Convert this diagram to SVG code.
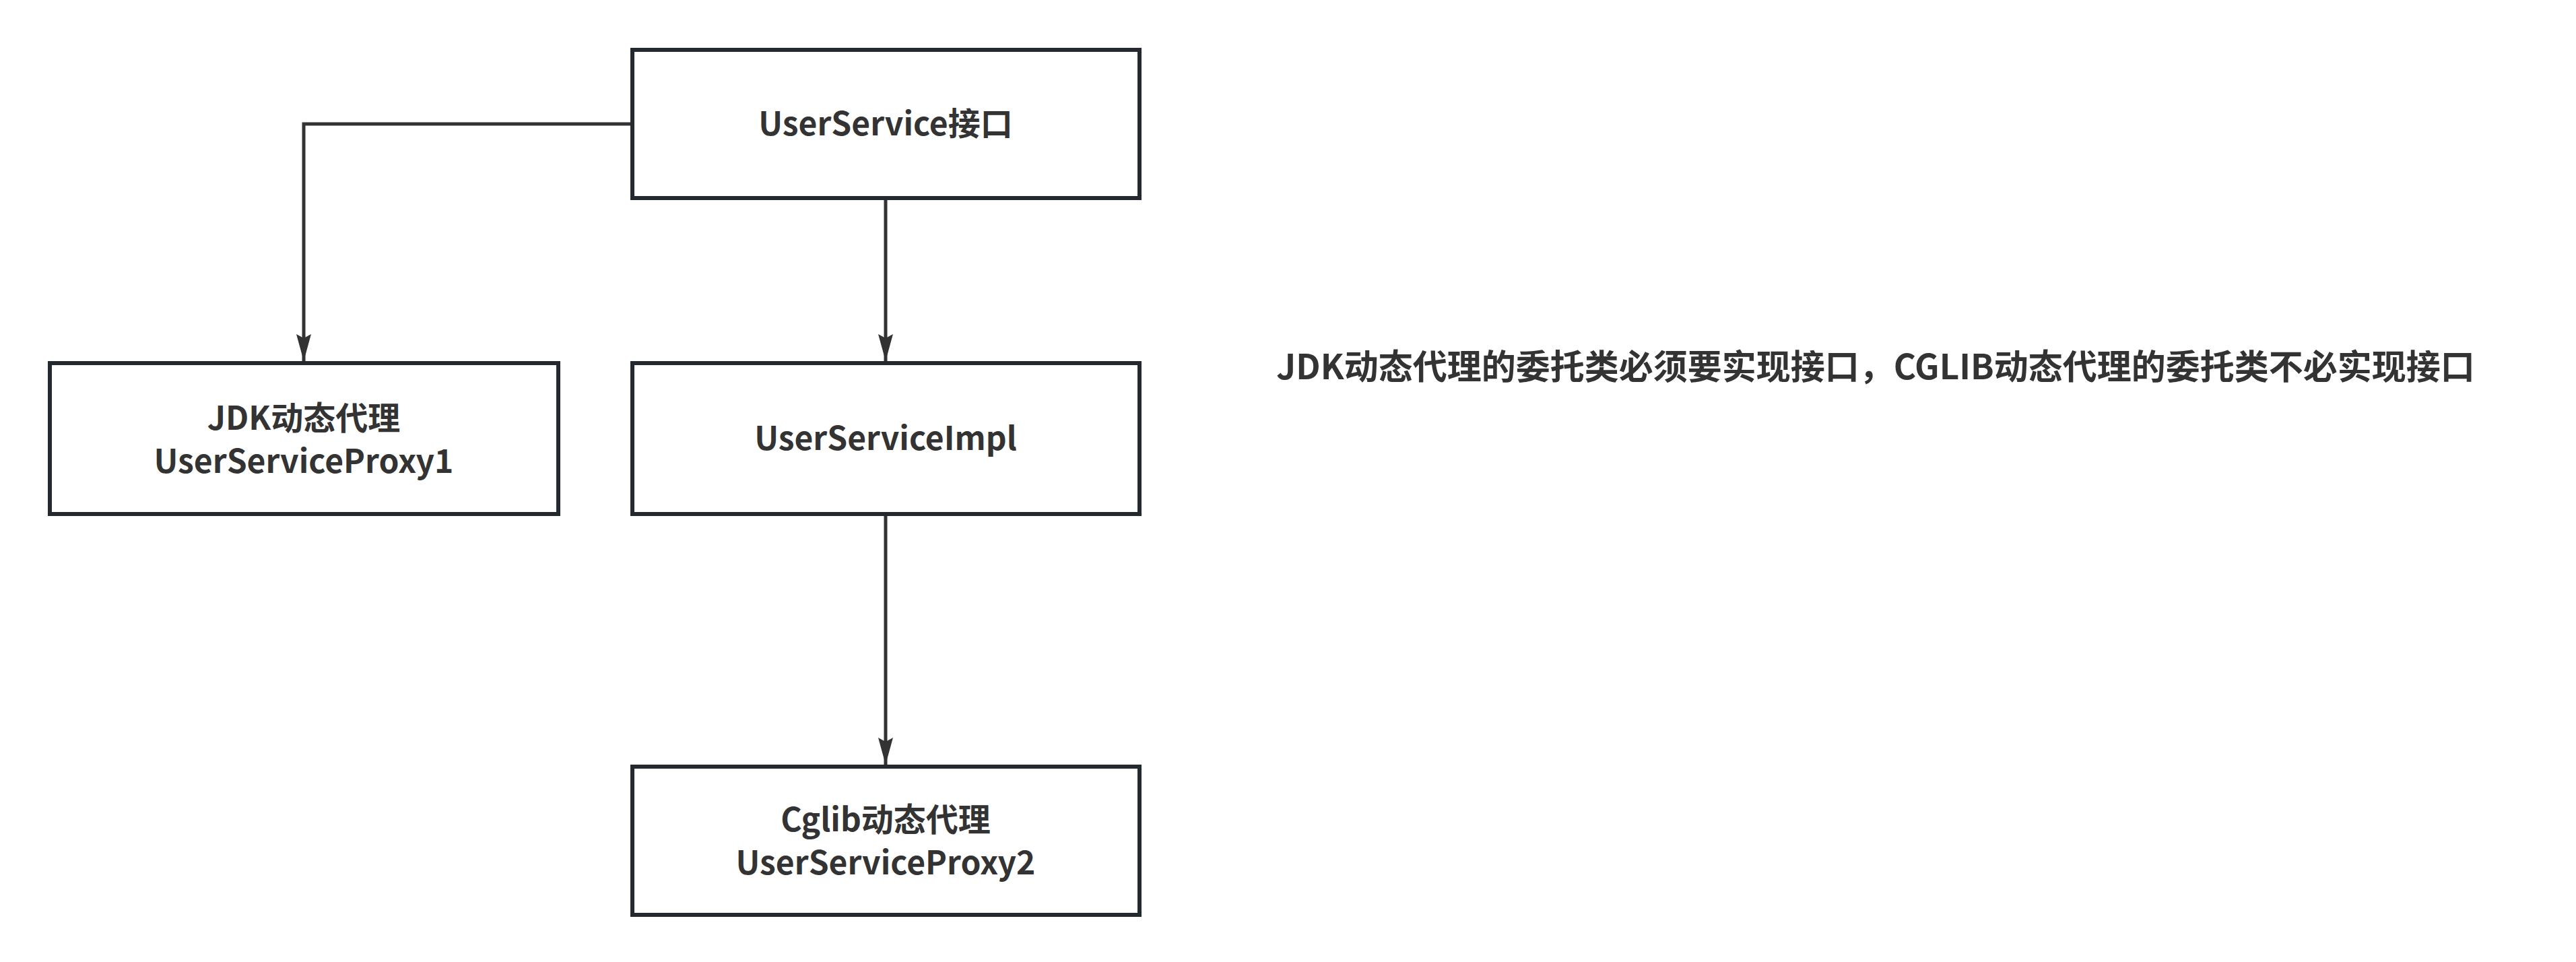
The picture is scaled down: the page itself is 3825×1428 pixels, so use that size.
<svg xmlns="http://www.w3.org/2000/svg" width="3825" height="1428" viewBox="0 0 3825 1428">
<style>
.box{fill:#fff;stroke:#23292e;stroke-width:6}
.t{font-family:"Noto Sans CJK SC","Noto Sans",sans-serif;font-weight:bold;font-size:48px;fill:#333;text-anchor:middle}
.n{font-size:51px}
.c{fill:none;stroke:#333;stroke-width:5}
</style>
<defs>
<marker id="ar" viewBox="0 0 40 22" refX="40" refY="11" markerWidth="40" markerHeight="22" markerUnits="userSpaceOnUse" orient="auto"><path d="M0,0 L40,11 L0,22 L6,11 Z" fill="#333"/></marker></defs>
<g id="connectors">
<path class="c" d="M939,184 H451 V536" marker-end="url(#ar)"/>
<path class="c" d="M1315,294 V536" marker-end="url(#ar)"/>
<path class="c" d="M1315,763 V1135" marker-end="url(#ar)"/>
</g>
<g id="n1"><rect class="box" x="939" y="74" width="753" height="220"/><text class="t" x="1315" y="201">UserService接口</text></g>
<g id="n2"><rect class="box" x="74" y="539" width="755" height="224"/><text class="t" x="451" y="638">JDK动态代理</text><text class="t" x="451" y="702">UserServiceProxy1</text></g>
<g id="n3"><rect class="box" x="939" y="539" width="753" height="224"/><text class="t" x="1315" y="668">UserServiceImpl</text></g>
<g id="n4"><rect class="box" x="939" y="1138" width="753" height="220"/><text class="t" x="1315" y="1234">Cglib动态代理</text><text class="t" x="1315" y="1298">UserServiceProxy2</text></g>
<g id="note"><text class="t n" x="2785" y="563">JDK动态代理的委托类必须要实现接口，CGLIB动态代理的委托类不必实现接口</text></g>
</svg>
